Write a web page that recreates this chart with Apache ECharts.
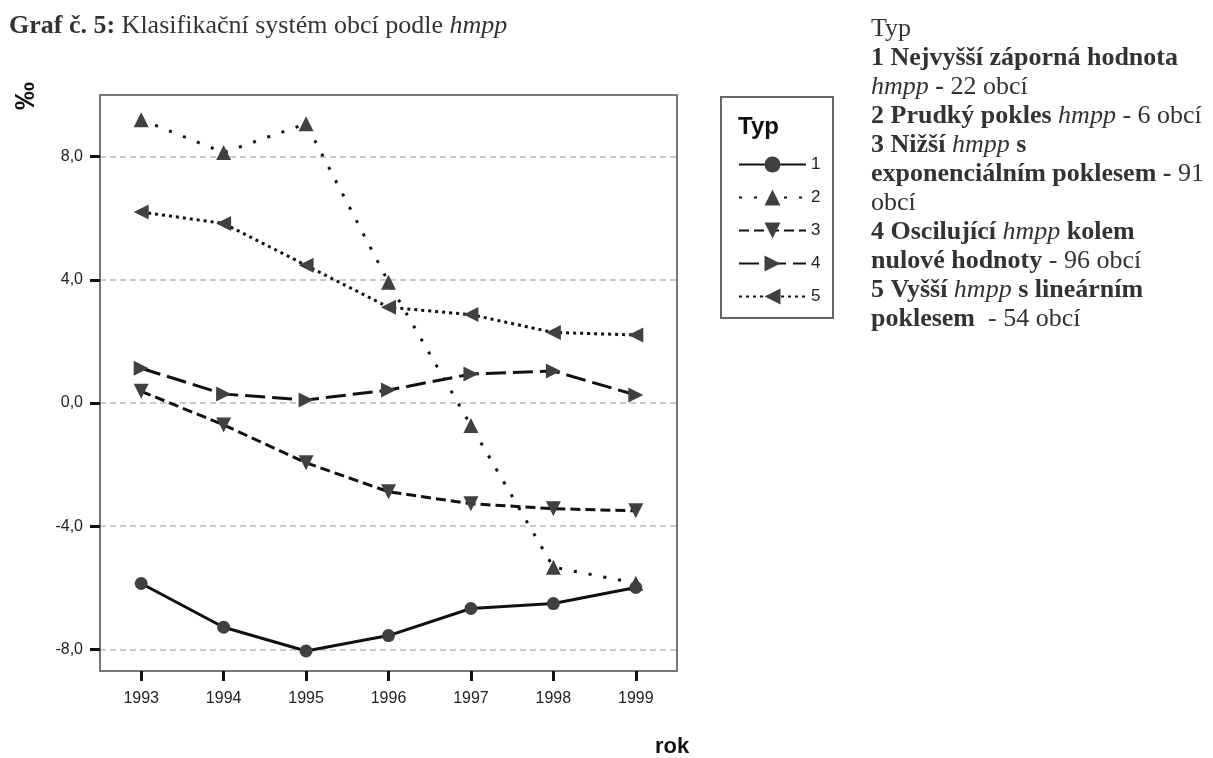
<!DOCTYPE html>
<html>
<head>
<meta charset="utf-8">
<script src="https://cdn.jsdelivr.net/npm/echarts@6/dist/echarts.min.js"></script>
<style>html,body{margin:0;padding:0;background:#fff}#c{width:1213px;height:758px}</style>
</head>
<body>
<div id="c"></div>
<script>
// ---- data ----
const years = ['1993', '1994', '1995', '1996', '1997', '1998', '1999'];
const seriesNames = ['1', '2', '3', '4', '5'];
const typ1 = [-5.86, -7.28, -8.05, -7.55, -6.67, -6.51, -5.99];
const typ2 = [9.2, 8.13, 9.07, 3.92, -0.73, -5.33, -5.85];
const typ3 = [0.38, -0.71, -1.94, -2.88, -3.27, -3.43, -3.5];
const typ4 = [1.13, 0.29, 0.1, 0.42, 0.94, 1.04, 0.26];
const typ5 = [6.2, 5.83, 4.47, 3.11, 2.87, 2.29, 2.21];
const yTicks = [-8, -4, 0, 4, 8];

const chart = echarts.init(document.getElementById('c'));
const serif = '"Liberation Serif", "Times New Roman", serif';
const sans = '"Liberation Sans", Arial, sans-serif';
const markerColor = '#404040';

function mk(name, data, symbol, rot, size, dash, z) {
  return {
    name: name, type: 'line', data: data,
    symbol: symbol, symbolSize: size, symbolRotate: rot,
    z: z,
    itemStyle: { color: markerColor, borderWidth: 0 },
    lineStyle: { color: '#111', width: 3, type: dash },
    emphasis: { disabled: true },
    animation: false
  };
}

const option = {
  backgroundColor: '#fff',
  animation: false,
  title: {
    left: 4, top: 8,
    text: '{b|Graf č. 5:} Klasifikační systém obcí podle {i|hmpp}',
    textStyle: {
      fontFamily: serif, fontSize: 26, fontWeight: 'normal', color: '#333',
      rich: {
        b: { fontFamily: serif, fontSize: 26, fontWeight: 'bold', color: '#333' },
        i: { fontFamily: serif, fontSize: 26, fontStyle: 'italic', color: '#333' }
      }
    }
  },
  grid: {
    left: 100, top: 95, right: 536, bottom: 87,
    show: true, borderColor: '#777', borderWidth: 2, backgroundColor: '#fff'
  },
  legend: {
    orient: 'vertical', left: 733, top: 151,
    data: seriesNames,
    itemWidth: 67, itemHeight: 20, itemGap: 16,
    textStyle: { fontFamily: sans, fontSize: 17, color: '#222' },
    selectedMode: false
  },
  xAxis: {
    type: 'category', data: years, boundaryGap: true,
    axisLine: { show: false, onZero: false },
    axisTick: { show: true, alignWithLabel: true, length: 10, lineStyle: { color: '#111', width: 3 } },
    axisLabel: { margin: 20, fontFamily: sans, fontSize: 16, color: '#222' },
    splitLine: { show: false }
  },
  yAxis: {
    type: 'value', min: -8.7, max: 10,
    axisLine: { show: true, lineStyle: { color: '#777', width: 2 } },
    axisTick: { show: true, length: 10, customValues: yTicks, lineStyle: { color: '#111', width: 3 } },
    axisLabel: {
      customValues: yTicks, margin: 17, fontFamily: sans, fontSize: 16, color: '#222',
      formatter: function (v) { return v.toFixed(1).replace('.', ','); }
    },
    splitLine: { show: true, lineStyle: { color: '#bbb', width: 1.5, type: [6, 4] } }
  },
  graphic: [
    { type: 'text', left: 12, top: 82, rotation: Math.PI / 2, originX: 0, originY: 0,
      style: { text: '‰', font: 'bold 28px ' + sans, fill: '#111' } },
    { type: 'text', left: 655, top: 736,
      style: { text: 'rok', font: 'bold 22px ' + sans, fill: '#111' } },
    { type: 'rect', shape: { x: 721, y: 97, width: 112, height: 221 },
      style: { fill: 'none', stroke: '#666', lineWidth: 2 } },
    { type: 'text', left: 738, top: 115,
      style: { text: 'Typ', font: 'bold 24px ' + sans, fill: '#111' } },
    { type: 'text', left: 871, top: 16,
      style: {
        text: '{n|Typ}\n' +
              '{b|1 Nejvyšší záporná hodnota}\n' +
              '{i|hmpp}{b| -}{n| 22 obcí}\n' +
              '{b|2 Prudký pokles }{i|hmpp}{n| - 6 obcí}\n' +
              '{b|3 Nižší }{i|hmpp}{b| s}\n' +
              '{b|exponenciálním poklesem -}{n| 91}\n' +
              '{n|obcí}\n' +
              '{b|4 Oscilující }{i|hmpp}{b| kolem}\n' +
              '{b|nulové hodnoty}{n| - 96 obcí}\n' +
              '{b|5 Vyšší }{i|hmpp}{b| s lineárním}\n' +
              '{b|poklesem}{n|  - 54 obcí}',
        rich: {
          n: { fontFamily: serif, fontSize: 26, lineHeight: 29, fill: '#333' },
          b: { fontFamily: serif, fontSize: 26, fontWeight: 'bold', lineHeight: 29, fill: '#333' },
          i: { fontFamily: serif, fontSize: 26, fontStyle: 'italic', lineHeight: 29, fill: '#333' }
        }
      } }
  ],
  series: [
    mk('2', typ2, 'triangle', 0, 15, [3, 12], 3),
    mk('3', typ3, 'triangle', 180, 15, [10, 5], 3),
    mk('4', typ4, 'triangle', -90, 15, [20, 7], 3),
    mk('5', typ5, 'triangle', 90, 15, [3, 4], 3),
    mk('1', typ1, 'circle', 0, 13, 'solid', 4)
  ]
};
chart.setOption(option);
</script>
</body>
</html>
